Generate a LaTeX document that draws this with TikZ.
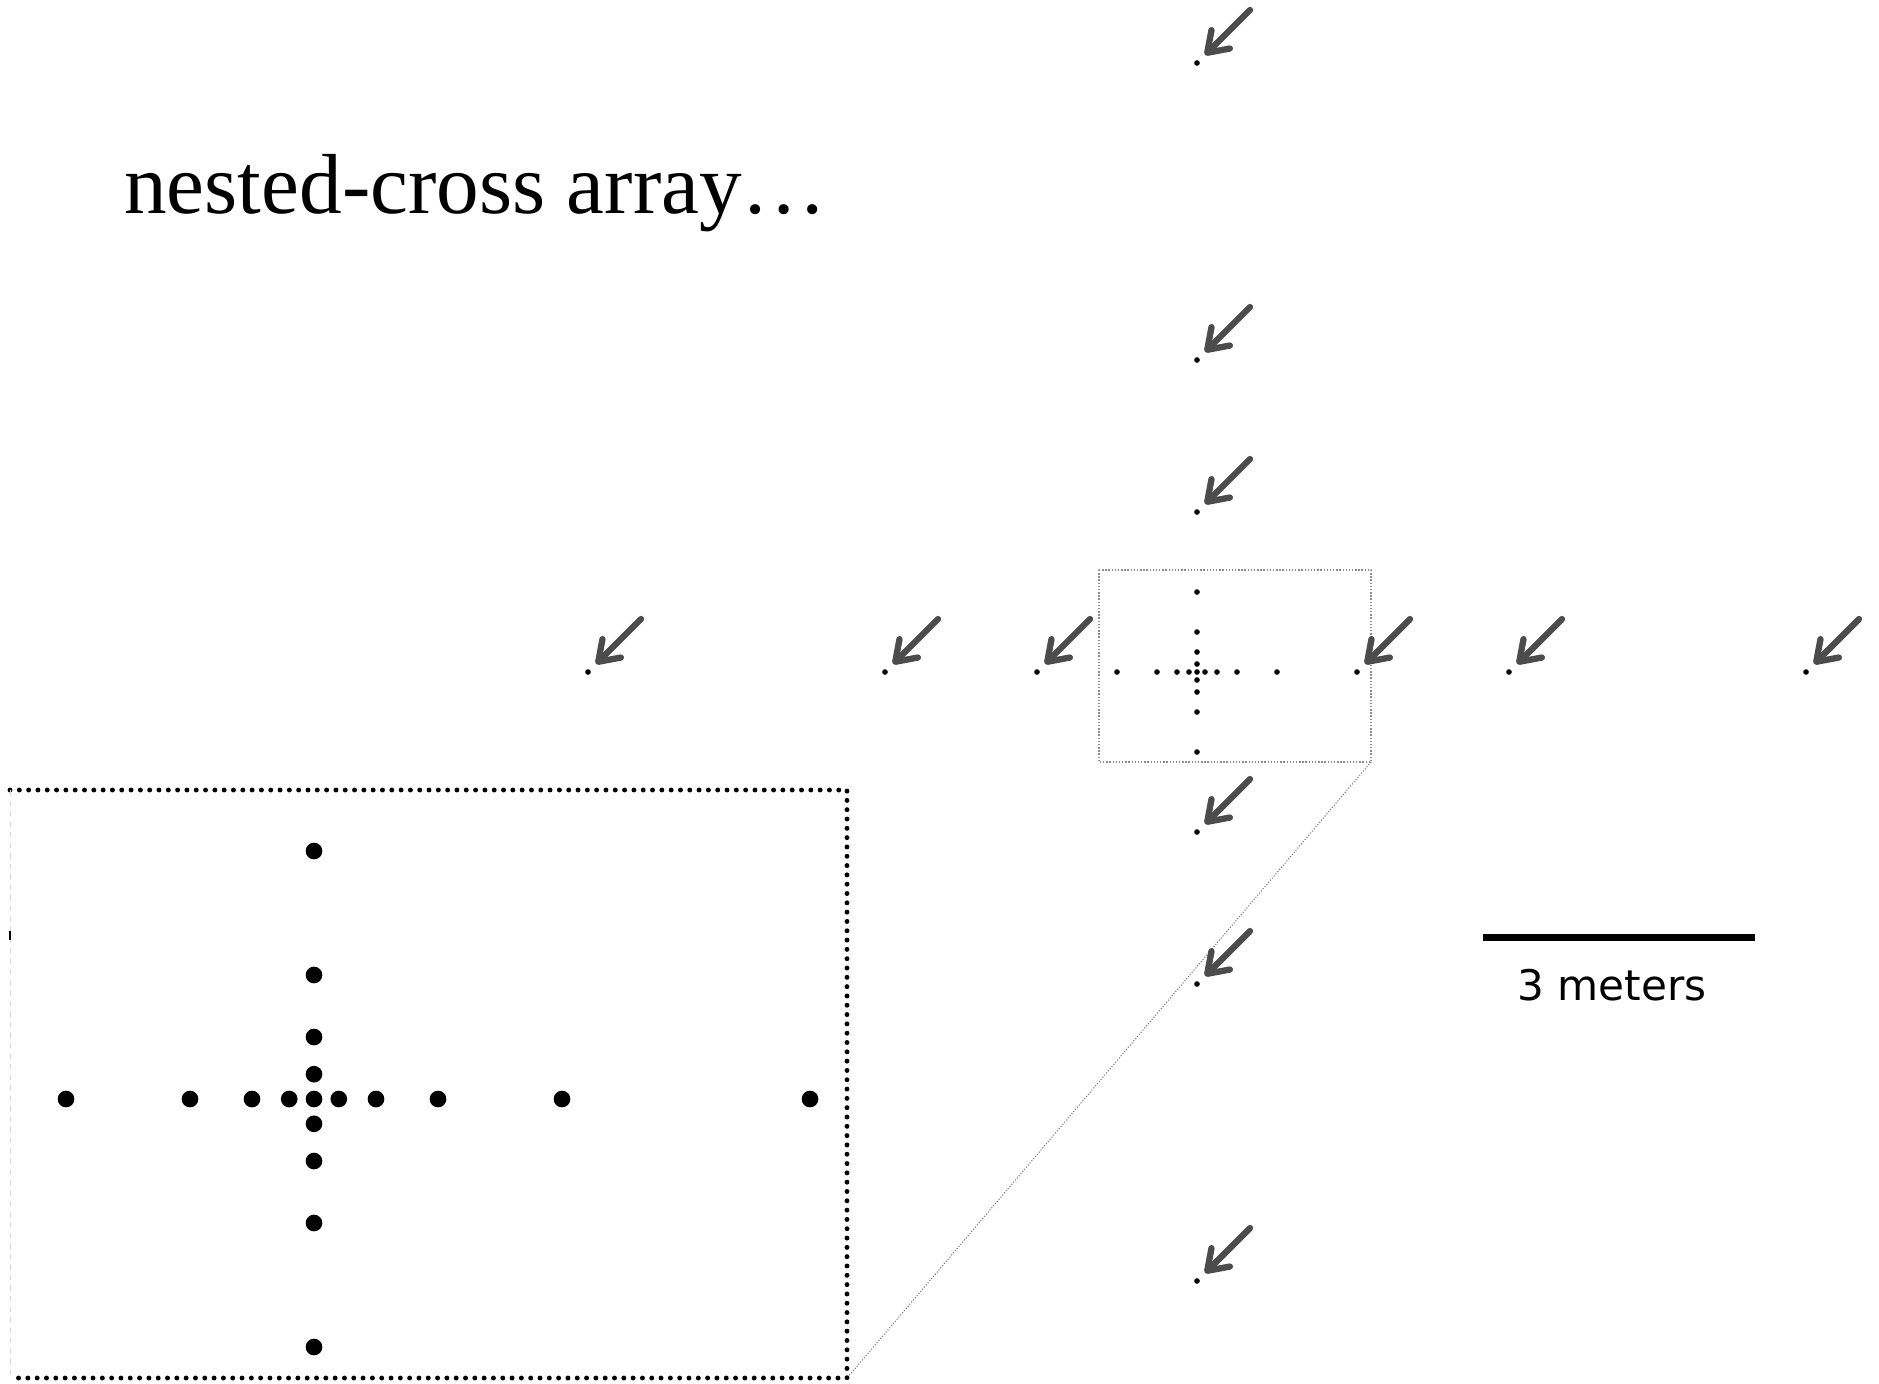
\documentclass[tikz,border=0pt]{standalone}
\usepackage{fontspec}
\setmainfont{Liberation Serif}
\newfontfamily\barfont{DejaVu Sans}
\usetikzlibrary{arrows.meta}

\begin{document}
\begin{tikzpicture}[
    x=0.02cm, y=-0.02cm,
    sensor/.style={circle, fill=black, inner sep=0pt, minimum size=3.2pt},
    bigsensor/.style={circle, fill=black, inner sep=0pt, minimum size=9.5pt},
    pointer/.style={-{Straight Barb[length=3.8mm, width=5.2mm, round]}, line width=3.6pt, draw=black!70, line cap=round},
    zoombox/.style={draw=black!45, line width=0.8pt, densely dotted},
    insetbox/.style={draw=black, line width=2.8pt, line cap=round, dash pattern=on 0pt off 5.3pt},
    zoomline/.style={draw=black!55, line width=0.6pt, densely dotted}
]
\useasboundingbox (0,0) rectangle (1879,1383);

% Title
\node[anchor=base west, inner sep=0pt, font=\fontsize{48.5}{52}\selectfont] (title) at (124,213) {nested-cross array…};

% Zoom frame, inset frame and the line between them
\coordinate (zoomnw) at (1099,570);
\coordinate (zoomse) at (1371,762);
\coordinate (insetnw) at (10,790);
\coordinate (insetse) at (847,1378);
\draw[zoombox] (zoomnw) rectangle (zoomse);
\draw[zoomline] (zoomse) -- (insetse);
\draw[insetbox] (insetnw) -- (insetnw -| insetse) -- (insetse) -- (insetse -| insetnw);
\draw[black!15, dashed, line width=0.4pt] (insetnw) -- (insetse -| insetnw);
\draw[line width=1.2pt] (10,931) -- (10,940);

% Array
\coordinate (ctr) at (1197,672);
\node[sensor] (c0) at (ctr) {};
\foreach \d [count=\i] in {8,20,40,80,160,312,609} {
  \node[sensor] (r\i) at ([shift={(\d,0)}]ctr) {};
  \node[sensor] (l\i) at ([shift={(-\d,0)}]ctr) {};
  \node[sensor] (u\i) at ([shift={(0,-\d)}]ctr) {};
  \node[sensor] (d\i) at ([shift={(0,\d)}]ctr) {};
}
\foreach \s in {r,l,u,d}
  \foreach \i in {5,6,7}
    \draw[pointer] ([shift={(53,-53)}]\s\i.center) -- ([shift={(8,-8)}]\s\i.center);

% Inset (magnified centre)
\coordinate (zctr) at (314,1099);
\node[bigsensor] (z0) at (zctr) {};
\foreach \d [count=\i] in {8,20,40,80} {
  \node[bigsensor] (zr\i) at ([shift={({3.1*\d},0)}]zctr) {};
  \node[bigsensor] (zl\i) at ([shift={({-3.1*\d},0)}]zctr) {};
  \node[bigsensor] (zu\i) at ([shift={(0,{-3.1*\d})}]zctr) {};
  \node[bigsensor] (zd\i) at ([shift={(0,{3.1*\d})}]zctr) {};
}
\node[bigsensor] (zr5) at ([shift={(496,0)}]zctr) {};

% Scale bar
\coordinate (barw) at (1483,937);
\coordinate (bare) at (1755,937);
\draw[line width=4pt] (barw) -- (bare);
\node[anchor=base, inner sep=0pt, font=\barfont\fontsize{24}{28}\selectfont] (barlabel) at (1612,1000) {3 meters};

\end{tikzpicture}
\end{document}
